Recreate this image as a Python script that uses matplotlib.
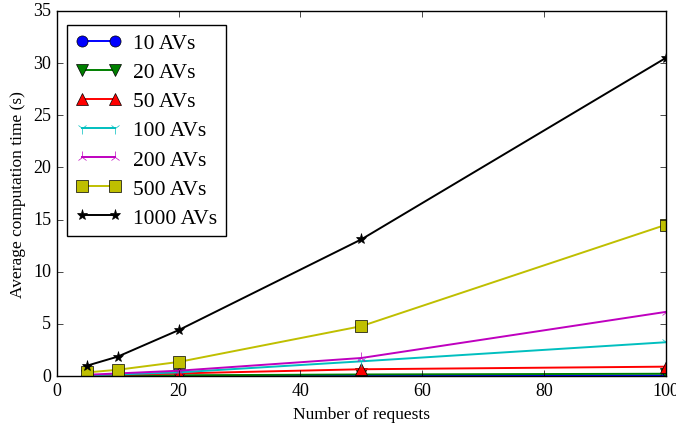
import matplotlib
matplotlib.use("Agg")
import matplotlib.pyplot as plt

plt.style.use("classic")
plt.rcParams["font.family"] = "serif"
plt.rcParams["font.serif"] = ["Liberation Serif", "DejaVu Serif"]
plt.rcParams["xtick.labelsize"] = 13
plt.rcParams["ytick.labelsize"] = 13

# number of requests per run
requests = [5, 10, 20, 50, 100]

# average computation time (s) per fleet size
t_10 = [0.02, 0.02, 0.03, 0.04, 0.05]
t_20 = [0.03, 0.04, 0.07, 0.15, 0.22]
t_50 = [0.06, 0.12, 0.25, 0.65, 0.9]
t_100 = [0.07, 0.15, 0.35, 1.41, 3.24]
t_200 = [0.12, 0.25, 0.51, 1.73, 6.15]
t_500 = [0.35, 0.6, 1.35, 4.78, 14.5]
t_1000 = [1.0, 1.86, 4.4, 13.1, 30.5]

labels = ["10 AVs", "20 AVs", "50 AVs", "100 AVs", "200 AVs", "500 AVs", "1000 AVs"]
series = [t_10, t_20, t_50, t_100, t_200, t_500, t_1000]
styles = [("b", "o"), ("g", "v"), ("r", "^"), ("c", "1"),
          ("m", "2"), ("y", "s"), ("k", "*")]

fig = plt.figure(figsize=(6.76, 4.27), dpi=100)
ax = fig.add_axes([0.084, 0.117, 0.901, 0.855])

for vals, lab, (c, m) in zip(series, labels, styles):
    ax.plot(requests, vals, color=c, marker=m, markersize=8,
            linewidth=1.4, label=lab)

ax.set_xlim(0, 100)
ax.set_ylim(0, 35)
ax.set_xlabel("Number of requests", fontsize=12.5)
ax.set_ylabel("Average computation time (s)", fontsize=12.5)
ax.legend(loc="upper left", bbox_to_anchor=(0.017, 0.962), borderaxespad=0,
          fontsize=15.5, labelspacing=0.42, handlelength=2.15,
          handletextpad=0.55, borderpad=0.38)

fig.savefig("out.png", dpi=100)
